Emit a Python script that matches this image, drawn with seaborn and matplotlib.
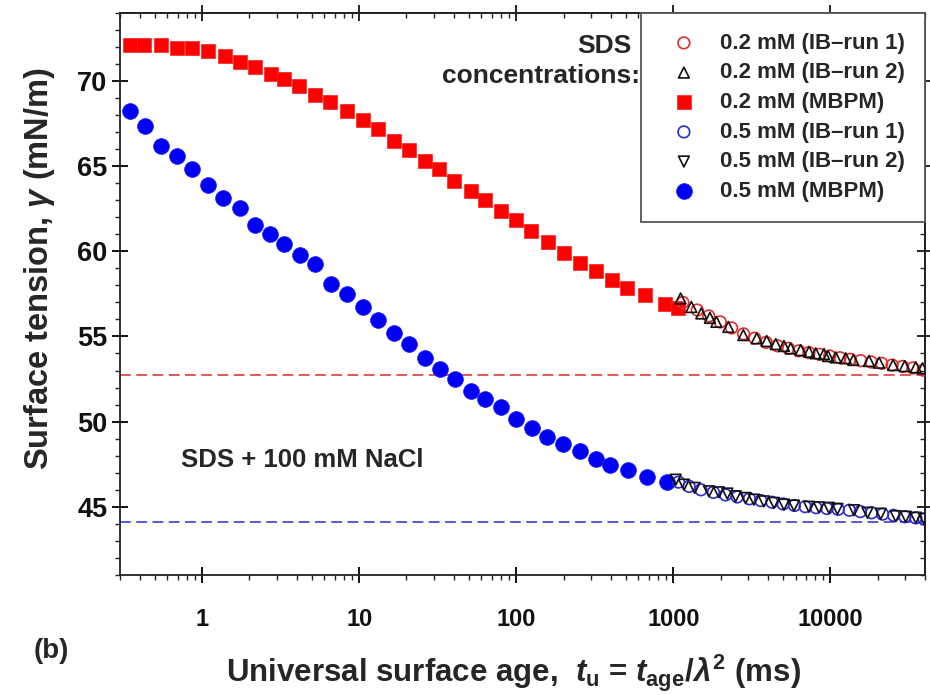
import numpy as np
import matplotlib
matplotlib.use("Agg")
import matplotlib.pyplot as plt
import seaborn as sns
from matplotlib import font_manager
from matplotlib.ticker import MultipleLocator, NullFormatter, LogLocator

# 0.2 mM SDS, MBPM
t_02_mbpm = [0.35, 0.425, 0.55, 0.69, 0.86, 1.09, 1.39, 1.74, 2.18, 2.76, 3.31, 4.12,
             5.27, 6.56, 8.39, 10.5, 13.2, 16.6, 20.9, 26.4, 32.1, 40.1, 51.2, 63.7,
             79.4, 100, 125, 159, 201, 253, 320, 404, 509, 657, 881, 1070]
g_02_mbpm = [72.09, 72.09, 72.09, 71.95, 71.95, 71.76, 71.46, 71.13, 70.82, 70.43, 70.10, 69.71,
             69.17, 68.77, 68.21, 67.70, 67.17, 66.49, 65.94, 65.32, 64.83, 64.15, 63.52, 62.98,
             62.39, 61.81, 61.16, 60.54, 59.92, 59.31, 58.84, 58.30, 57.85, 57.46, 56.93, 56.64]

# 0.2 mM SDS, IB run 1 / run 2
t_02_ib1 = [1150, 1420, 1680, 1990, 2350, 2800, 3300, 3900, 4600, 5400, 6300, 7300,
            8500, 9900, 11500, 13400, 15600, 18200, 21200, 24700, 28800, 33500, 39000]
g_02_ib1 = [57.0, 56.55, 56.2, 55.85, 55.5, 55.15, 54.9, 54.65, 54.45, 54.3, 54.15, 54.05,
            53.95, 53.85, 53.75, 53.66, 53.58, 53.5, 53.42, 53.32, 53.24, 53.15, 53.02]
t_02_ib2 = [1112, 1303, 1507, 1710, 1879, 2240, 2790, 3395, 3930, 4485, 5060, 5585, 6470,
            7310, 8060, 9110, 9660, 10810, 12510, 14010, 17600, 20400, 25060, 29730, 34950, 38550]
g_02_ib2 = [57.23, 56.73, 56.35, 56.09, 55.86, 55.56, 55.08, 54.89, 54.73, 54.55, 54.44, 54.30, 54.20,
            54.10, 54.01, 53.97, 53.85, 53.77, 53.72, 53.62, 53.56, 53.46, 53.32, 53.26, 53.19, 53.13]

# 0.5 mM SDS, MBPM
t_05_mbpm = [0.349, 0.435, 0.548, 0.693, 0.864, 1.086, 1.36, 1.74, 2.16, 2.72, 3.31, 4.17,
             5.27, 6.63, 8.39, 10.5, 13.2, 16.6, 20.9, 26.1, 32.5, 40.8, 51.2, 62.8,
             79.4, 100, 126, 157, 199, 254, 320, 395, 517, 683, 916]
g_05_mbpm = [68.24, 67.37, 66.20, 65.61, 64.83, 63.86, 63.14, 62.55, 61.56, 60.99, 60.44, 59.76,
             59.27, 58.10, 57.48, 56.70, 55.96, 55.18, 54.53, 53.72, 53.06, 52.52, 51.80, 51.32,
             50.83, 50.15, 49.65, 49.07, 48.68, 48.25, 47.81, 47.47, 47.14, 46.75, 46.44]

# 0.5 mM SDS, IB run 1 / run 2
t_05_ib1 = [1080, 1260, 1500, 1800, 2150, 2550, 3050, 3600, 4250, 5000, 5900, 6900,
            8100, 9500, 11200, 13200, 15500, 18300, 21500, 25300, 29800, 35000, 39500]
g_05_ib1 = [46.45, 46.2, 46.0, 45.85, 45.7, 45.58, 45.47, 45.37, 45.27, 45.17, 45.08, 45.01,
            44.95, 44.9, 44.85, 44.8, 44.72, 44.65, 44.57, 44.5, 44.42, 44.35, 44.28]
t_05_ib2 = [1035, 1169, 1368, 1686, 1951, 2206, 2493, 2886, 3260, 3774, 4371, 5060,
            5860, 7310, 8460, 9790, 11080, 14140, 17210, 20910, 26050, 30150, 34950, 39460]
g_05_ib2 = [46.59, 46.30, 46.11, 45.91, 45.85, 45.78, 45.62, 45.52, 45.42, 45.32, 45.23, 45.13,
            45.07, 45.00, 44.97, 44.94, 44.88, 44.80, 44.65, 44.59, 44.45, 44.42, 44.36, 44.30]

# equilibrium values (dashed lines)
g_eq_02 = 52.75
g_eq_05 = 44.1

xtick_vals = [1, 10, 100, 1000, 10000]
xtick_labels = ["1", "10", "100", "1000", "10000"]
ytick_vals = [45, 50, 55, 60, 65, 70]
ytick_labels = ["45", "50", "55", "60", "65", "70"]

legend_order = ["0.2 mM (IB\u2013run 1)", "0.2 mM (IB\u2013run 2)", "0.2 mM (MBPM)",
                "0.5 mM (IB\u2013run 1)", "0.5 mM (IB\u2013run 2)", "0.5 mM (MBPM)"]

sns.set_style("ticks")
installed = {f.name for f in font_manager.fontManager.ttflist}
narrow = "Liberation Sans Narrow" if "Liberation Sans Narrow" in installed else "Liberation Sans"
plt.rcParams["font.family"] = ["Liberation Sans", "DejaVu Sans"]
plt.rcParams["font.weight"] = "bold"
plt.rcParams["mathtext.fontset"] = "custom"
plt.rcParams["mathtext.rm"] = "Liberation Sans:bold"
plt.rcParams["mathtext.bf"] = "Liberation Sans:bold"
plt.rcParams["mathtext.it"] = "Liberation Sans:italic:bold"
plt.rcParams["axes.edgecolor"] = "#222222"
plt.rcParams["axes.linewidth"] = 1.3

fig = plt.figure(figsize=(9.3, 6.95), dpi=100)
ax = fig.add_axes([0.129, 0.1727, 0.8656, 0.809])

ax.axhline(g_eq_02, color="#e24a4a", lw=1.3, ls=(0, (6, 3)), zorder=1)
ax.axhline(g_eq_05, color="#4a4ae2", lw=1.3, ls=(0, (6, 3)), zorder=1)

sns.scatterplot(x=t_02_mbpm, y=g_02_mbpm, marker="s", s=110, color="#ff0000",
                edgecolor="#ff2020", linewidth=0.5, label=legend_order[2], ax=ax, zorder=3)
sns.scatterplot(x=t_05_mbpm, y=g_05_mbpm, marker="o", s=130, color="#0000f5",
                edgecolor="#2020ff", linewidth=0.5, label=legend_order[5], ax=ax, zorder=3)


def open_pts(x, y, marker, edge, label, size):
    sns.scatterplot(x=x, y=y, marker=marker, s=size, color=edge, label=label, ax=ax, zorder=4)
    pts = ax.collections[-1]
    pts.set_facecolor("none")
    pts.set_edgecolor(edge)
    pts.set_linewidth(1.2)


open_pts(t_02_ib1, g_02_ib1, "o", "#e52a2a", legend_order[0], 70)
open_pts(t_02_ib2, g_02_ib2, "^", "#111111", legend_order[1], 60)
open_pts(t_05_ib1, g_05_ib1, "o", "#2a2ad5", legend_order[3], 70)
open_pts(t_05_ib2, g_05_ib2, "v", "#111111", legend_order[4], 60)

ax.set_xscale("log")
ax.set_xlim(0.3, 40000)
ax.set_ylim(41, 74)
ax.set_xticks(xtick_vals, xtick_labels)
ax.xaxis.set_minor_locator(LogLocator(base=10, subs=np.arange(2, 10)))
ax.xaxis.set_minor_formatter(NullFormatter())
ax.set_yticks(ytick_vals, ytick_labels)
ax.yaxis.set_minor_locator(MultipleLocator(1))

ax.tick_params(which="major", direction="inout", length=12, width=1.4, colors="#111111")
ax.tick_params(which="minor", direction="out", length=3.5, width=1.0, colors="#222222")
ax.tick_params(axis="x", which="major", pad=18, labelsize=17)
ax.tick_params(axis="y", which="major", pad=3, labelsize=19.5)
for lab in ax.get_xticklabels() + ax.get_yticklabels():
    lab.set_fontweight("bold")
for lab in ax.get_xticklabels():
    lab.set_family(narrow)

# mirrored ticks on top/right, minor ticks pointing inward
top = ax.secondary_xaxis("top")
top.set_xticks(xtick_vals)
top.xaxis.set_major_formatter(NullFormatter())
top.xaxis.set_minor_locator(LogLocator(base=10, subs=np.arange(2, 10)))
top.xaxis.set_minor_formatter(NullFormatter())
top.tick_params(which="major", direction="inout", length=12, width=1.4)
top.tick_params(which="minor", direction="in", length=3.5, width=1.0)
right = ax.secondary_yaxis("right")
right.set_yticks(ytick_vals)
right.yaxis.set_major_formatter(NullFormatter())
right.yaxis.set_minor_locator(MultipleLocator(1))
right.tick_params(which="major", direction="inout", length=12, width=1.4)
right.tick_params(which="minor", direction="in", length=3.5, width=1.0)

handles, labels = ax.get_legend_handles_labels()
lookup = dict(zip(labels, handles))
leg = ax.legend([lookup[k] for k in legend_order], legend_order, loc="upper right",
                bbox_to_anchor=(1, 1), borderaxespad=0, frameon=True, fancybox=False,
                edgecolor="#555555", framealpha=1, prop={"weight": "bold", "size": 16},
                borderpad=0.9, handlelength=2.1, handletextpad=0.58, labelspacing=0.39)
leg.get_frame().set_linewidth(1.3)

fig.text(0.6495, 0.9237, "SDS", ha="center", va="baseline", fontsize=19, fontweight="bold")
fig.text(0.6882, 0.8806, "concentrations:", ha="right", va="baseline", fontsize=19,
         fontweight="bold")
fig.text(0.3247, 0.328, "SDS + 100 mM NaCl", ha="center", va="baseline", fontsize=18.5,
         fontweight="bold")
fig.text(0.0548, 0.0633, "(b)", ha="center", va="center", fontsize=20, fontweight="bold")

fig.text(0.043, 0.614, r"Surface tension, $\gamma$ (mN/m)", rotation=90, ha="center",
         va="center", fontsize=23.5, fontweight="bold")
fig.text(0.552, 0.0187, r"Universal surface age,  $t_\mathrm{u}$ = $t_\mathrm{age}/\lambda^2$ (ms)",
         ha="center", va="baseline", fontsize=22.5, fontweight="bold", family=narrow)

fig.savefig("out.png", dpi=100)
